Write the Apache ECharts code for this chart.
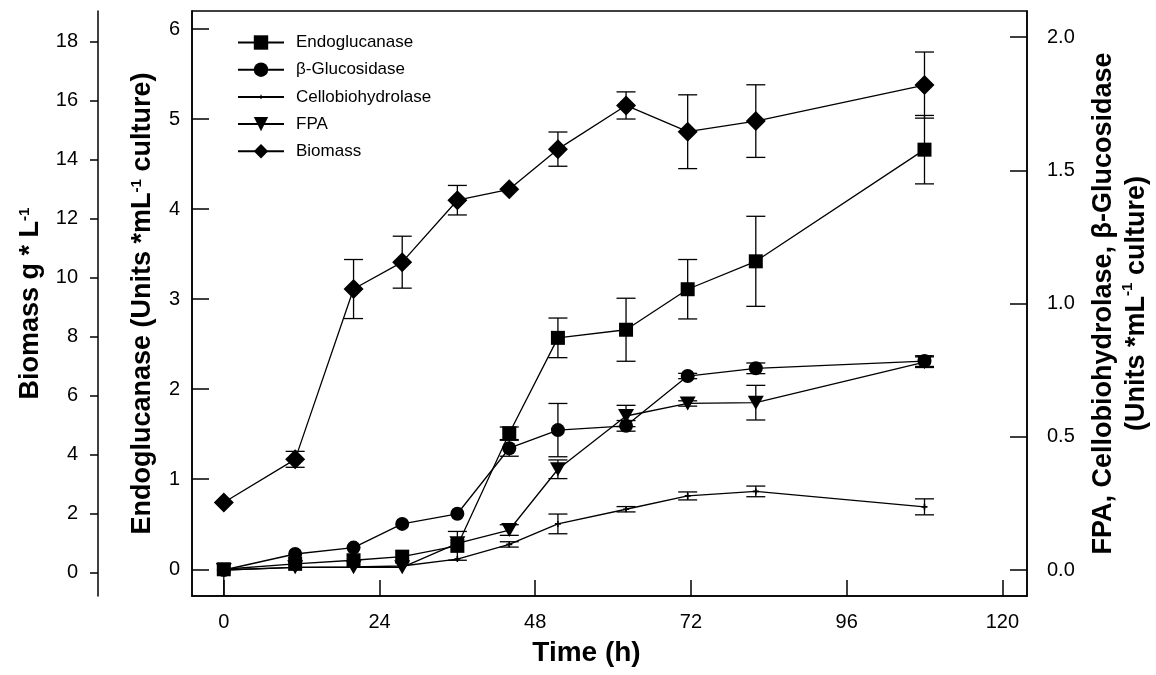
<!DOCTYPE html>
<html>
<head>
<meta charset="utf-8">
<script src="https://cdn.jsdelivr.net/npm/echarts@6/dist/echarts.min.js"></script>
<style>
html, body { margin: 0; padding: 0; background: #fff; }
#chart { width: 1156px; height: 675px; }
</style>
</head>
<body>
<div id="chart"></div>
<script>
// sampling times (h)
var time = [0, 11, 20, 27.5, 36, 44, 51.5, 62, 71.5, 82, 108];

// Endoglucanase (left inner axis, Units/mL)
var endo      = [0, 0.06, 0.1, 0.14, 0.26, 1.51, 2.57, 2.66, 3.11, 3.42, 4.66];
var endoErrUp = [0, 0, 0, 0, 0.16, 0.07, 0.22, 0.35, 0.33, 0.5, 0.38];
var endoErrDn = [0.3, 0, 0, 0, 0.16, 0.07, 0.22, 0.35, 0.33, 0.5, 0.38];

// beta-Glucosidase (right axis)
var gluc    = [0, 0.06, 0.084, 0.173, 0.211, 0.457, 0.525, 0.541, 0.728, 0.757, 0.784];
var glucErr = [0, 0, 0, 0, 0, 0.03, 0.1, 0.02, 0.01, 0.02, 0.02];

// Cellobiohydrolase (right axis)
var cello    = [0, 0.01, 0.012, 0.015, 0.041, 0.096, 0.173, 0.228, 0.278, 0.295, 0.237];
var celloErr = [0, 0, 0, 0, 0, 0.01, 0.037, 0.01, 0.015, 0.02, 0.03];

// FPA (right axis)
var fpa    = [0, 0.01, 0.01, 0.01, 0.1, 0.15, 0.378, 0.578, 0.625, 0.628, 0.78];
var fpaErr = [0, 0, 0, 0, 0, 0.02, 0.035, 0.04, 0.01, 0.065, 0.02];

// Biomass (outer left axis, g/L)
var biomass    = [2.39, 3.85, 9.62, 10.53, 12.63, 13.0, 14.36, 15.84, 14.95, 15.31, 16.53];
var biomassErr = [0, 0.27, 1.0, 0.88, 0.5, 0, 0.58, 0.46, 1.25, 1.23, 1.12];

var xTicks = [0, 24, 48, 72, 96, 120];
var endoTicks = [0, 1, 2, 3, 4, 5, 6];
var biomassTicks = [0, 2, 4, 6, 8, 10, 12, 14, 16, 18];
var rightTicks = [0, 0.5, 1, 1.5, 2];

var FONT = 'Liberation Sans, Arial, sans-serif';

function pairs(ys) {
    var out = [];
    for (var i = 0; i < time.length; i++) out.push([time[i], ys[i]]);
    return out;
}
// [x, low, high, hasLowCap, hasHighCap]
function bars(ys, dn, up) {
    up = up || dn;
    var out = [];
    for (var i = 0; i < time.length; i++) {
        if (dn[i] > 0 || up[i] > 0) {
            out.push([time[i], ys[i] - dn[i], ys[i] + up[i], dn[i] > 0 ? 1 : 0, up[i] > 0 ? 1 : 0]);
        }
    }
    return out;
}

function errorBar(params, api) {
    var x = api.value(0);
    var lo = api.coord([x, api.value(1)]);
    var hi = api.coord([x, api.value(2)]);
    var w = 9.5;
    var style = { stroke: '#000', lineWidth: 1.3 };
    var kids = [{ type: 'line', shape: { x1: hi[0], y1: hi[1], x2: lo[0], y2: lo[1] }, style: style }];
    if (api.value(4)) kids.push({ type: 'line', shape: { x1: hi[0] - w, y1: hi[1], x2: hi[0] + w, y2: hi[1] }, style: style });
    if (api.value(3)) kids.push({ type: 'line', shape: { x1: lo[0] - w, y1: lo[1], x2: lo[0] + w, y2: lo[1] }, style: style });
    return { type: 'group', children: kids };
}

function errSeries(data, yIdx) {
    return {
        type: 'custom',
        renderItem: errorBar,
        yAxisIndex: yIdx,
        clip: true,
        z: 1,
        silent: true,
        data: data
    };
}

function lineSeries(name, ys, yIdx, symbol, size, rotate) {
    return {
        name: name,
        type: 'line',
        yAxisIndex: yIdx,
        data: pairs(ys),
        symbol: symbol,
        symbolSize: size,
        symbolRotate: rotate || 0,
        showAllSymbol: true,
        z: 3,
        lineStyle: { color: '#000', width: 1.3 },
        itemStyle: { color: '#000', borderWidth: 0 }
    };
}

var labelStyle = { color: '#000', fontSize: 20, fontFamily: FONT };
var titleStyle = {
    color: '#000', fontSize: 27, fontWeight: 'bold', fontFamily: FONT,
    rich: { sup: { fontSize: 15, fontWeight: 'bold', fontFamily: FONT, color: '#000', verticalAlign: 'top', padding: [0, 0, 8, 0] } }
};

// small plus marker centred in a padded box so the legend copy stays small as well
var plusMark = 'path://M0,0M20,20M7,9.2H13V10.8H7ZM9.2,7H10.8V13H9.2Z';

var myChart = echarts.init(document.getElementById('chart'));
var option = {
    animation: false,
    backgroundColor: '#fff',
    grid: {
        left: 192, right: 129, top: 11, bottom: 79,
        outerBoundsMode: 'none',
        show: true, borderColor: '#000', borderWidth: 1.5
    },
    legend: {
        left: 237, top: 34, orient: 'vertical', padding: 0,
        itemWidth: 46, itemHeight: 18, itemGap: 10.2,
        data: ['Endoglucanase', 'β-Glucosidase', 'Cellobiohydrolase', 'FPA', 'Biomass'],
        textStyle: { color: '#000', fontSize: 17, fontFamily: FONT, padding: [0, 0, 0, 7] }
    },
    xAxis: {
        type: 'value', min: -4.9, max: 123.8,
        name: 'Time (h)', nameLocation: 'middle', nameGap: 43,
        nameTextStyle: { color: '#000', fontSize: 28, fontWeight: 'bold', fontFamily: FONT, padding: [0, 46, 0, 0] },
        axisLine: { onZero: false, lineStyle: { color: '#000', width: 1.5 } },
        axisTick: { inside: true, length: 16, customValues: xTicks, lineStyle: { color: '#000', width: 1.5 } },
        axisLabel: Object.assign({ margin: 16, customValues: xTicks }, labelStyle),
        splitLine: { show: false }
    },
    yAxis: [
        {
            type: 'value', position: 'left', min: -0.297, max: 6.2,
            name: 'Endoglucanase (Units *mL{sup|-1} culture)', nameLocation: 'middle', nameGap: 36, nameRotate: 90,
            nameTextStyle: titleStyle,
            axisLine: { show: true, onZero: false, lineStyle: { color: '#000', width: 1.5 } },
            axisTick: { show: true, inside: true, length: 17, customValues: endoTicks, lineStyle: { color: '#000', width: 1.5 } },
            axisLabel: Object.assign({ margin: 12, customValues: endoTicks }, labelStyle),
            splitLine: { show: false }
        },
        {
            type: 'value', position: 'left', offset: 94, min: -0.78, max: 19.04,
            name: 'Biomass g * L{sup|-1}', nameLocation: 'middle', nameGap: 54, nameRotate: 90,
            nameTextStyle: titleStyle,
            axisLine: { show: true, onZero: false, lineStyle: { color: '#000', width: 1.5 } },
            axisTick: { show: true, inside: false, length: 8, customValues: biomassTicks, lineStyle: { color: '#000', width: 1.5 } },
            axisLabel: Object.assign({ margin: 20, customValues: biomassTicks }, labelStyle),
            splitLine: { show: false }
        },
        {
            type: 'value', position: 'right', min: -0.0976, max: 2.098,
            name: 'FPA, Cellobiohydrolase, β-Glucosidase\n(Units *mL{sup|-1} culture)',
            nameLocation: 'middle', nameGap: 60, nameRotate: 90,
            nameTextStyle: Object.assign({}, titleStyle, { lineHeight: 33 }),
            axisLine: { show: true, onZero: false, lineStyle: { color: '#000', width: 1.5 } },
            axisTick: { show: true, inside: true, length: 17, customValues: rightTicks, lineStyle: { color: '#000', width: 1.5 } },
            axisLabel: Object.assign({ margin: 20, customValues: rightTicks, formatter: function (v) { return v.toFixed(1); } }, labelStyle),
            splitLine: { show: false }
        }
    ],
    series: [
        errSeries(bars(endo, endoErrDn, endoErrUp), 0),
        errSeries(bars(gluc, glucErr), 2),
        errSeries(bars(cello, celloErr), 2),
        errSeries(bars(fpa, fpaErr), 2),
        errSeries(bars(biomass, biomassErr), 1),
        lineSeries('Endoglucanase', endo, 0, 'rect', 14),
        lineSeries('β-Glucosidase', gluc, 2, 'circle', 14),
        lineSeries('Cellobiohydrolase', cello, 2, plusMark, 20),
        lineSeries('FPA', fpa, 2, 'triangle', [16, 14], 180),
        lineSeries('Biomass', biomass, 1, 'diamond', 20)
    ]
};
myChart.setOption(option);
</script>
</body>
</html>
